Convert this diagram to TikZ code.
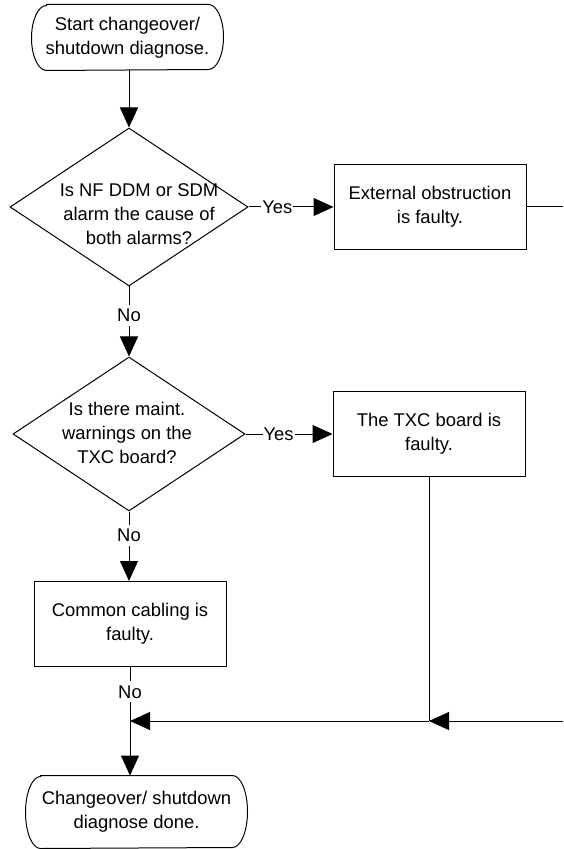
\documentclass[tikz,border=0pt]{standalone}
\usepackage{fontspec}
\setmainfont{Liberation Sans}
\usetikzlibrary{shapes.geometric,arrows.meta}
\tikzset{
	terminal/.style={rectangle, inner sep=0pt, align=center},
	decision/.style={diamond, draw=black, inner sep=0pt},
	process/.style={rectangle, draw=black, inner sep=0pt, align=center, minimum width=96pt, minimum height=42.5pt},
	question/.style={align=center, inner sep=0pt},
	branch/.style={fill=white, inner xsep=0.5pt, inner ysep=2pt},
	flow/.style={-{Triangle[length=10pt, width=9pt]}},
}
\newcommand{\termframe}[2]{%
	\draw ([xshift=7.5pt]#1.north west) -- ([xshift=-7.5pt]#1.north east)
		arc[start angle=90, end angle=-90, x radius=7.5pt, y radius=#2]
		-- ([xshift=7.5pt]#1.south west)
		arc[start angle=270, end angle=90, x radius=7.5pt, y radius=#2] -- cycle;}
\begin{document}
\begin{tikzpicture}[x=0.5pt, y=-0.5pt, line width=0.5pt, font=\fontsize{9.2pt}{12pt}\selectfont]
	\useasboundingbox (0,0) rectangle (563,849);
	\node[terminal, minimum width=95.5pt, minimum height=32.5pt] (start) at (127.5,37.5) {Start changeover/\\shutdown diagnose.};
	\termframe{start}{16.25pt}
	\node[decision, minimum width=119pt, minimum height=79pt] (d1) at (129,207) {};
	\node[question] (d1t) at (139,214) {Is NF DDM or SDM\\alarm the cause of\\both alarms?};
	\node[process] (ext) at (430,207) {External obstruction\\is faulty.};
	\node[decision, minimum width=116pt, minimum height=77pt] (d2) at (129,434) {};
	\node[question] (d2t) at (127,433) {Is there maint.\\warnings on the\\TXC board?};
	\node[process] (txc) at (429,434) {The TXC board is\\faulty.};
	\node[process] (cab) at (130,624) {Common cabling is\\faulty.};
	\node[terminal, minimum width=110.5pt, minimum height=36pt] (done) at (136.5,812) {Changeover/ shutdown\\diagnose done.};
	\termframe{done}{18pt}
	\coordinate (r1) at (563,207);
	\coordinate (r2) at (563,721);
	\coordinate (j1) at (429,721);
	\coordinate (j2) at (130,721);
	\draw[flow] (start.south -| d1.north) -- (d1.north);
	\draw[flow] (d1.east) -- node[branch, pos=0.34] (y1) {Yes} (ext.west);
	\draw (ext.east) -- (r1);
	\draw[flow] (d1.south) -- node[branch, pos=0.41] (n1) {No} (d2.north);
	\draw[flow] (d2.east) -- node[branch, pos=0.38] (y2) {Yes} (txc.west);
	\draw[flow] (d2.south) -- node[branch, pos=0.34] (n2) {No} (d2.south |- cab.north);
	\draw (cab.south) -- node[branch, pos=0.46] (n3) {No} (j2);
	\draw (txc.south) -- (j1);
	\draw[flow] (r2) -- (j1);
	\draw[flow] (j1) -- (j2);
	\draw[flow] (j2) -- (j2 |- done.north);
\end{tikzpicture}
\end{document}
